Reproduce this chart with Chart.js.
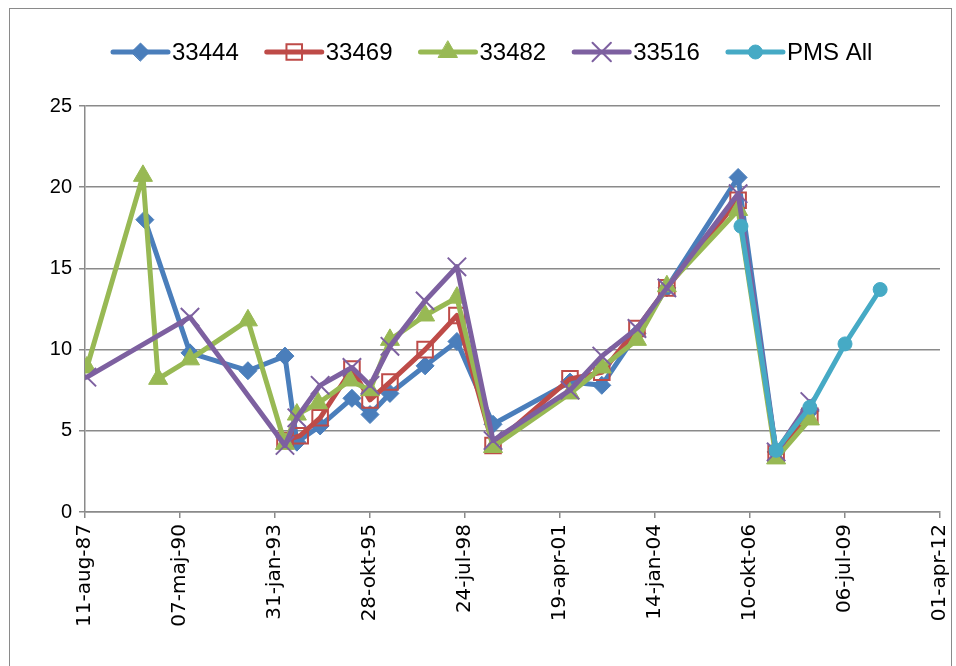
<!DOCTYPE html>
<html>
<head>
<meta charset="utf-8">
<script src="https://cdn.jsdelivr.net/npm/chart.js@4.4.0/dist/chart.umd.min.js"></script>
<style>
  html, body { margin: 0; padding: 0; background: #fff; }
</style>
</head>
<body>
<canvas id="chart" width="956" height="666"></canvas>
<script>
// x values are Excel day numbers (32000 = 11-aug-87)
const tickLabels = ['11-aug-87', '07-maj-90', '31-jan-93', '28-okt-95', '24-jul-98',
                    '19-apr-01', '14-jan-04', '10-okt-06', '06-jul-09', '01-apr-12'];

const days33444 = [32630, 33105, 33715, 34105, 34230, 34475, 34810, 35000, 35210, 35580, 35915, 36295, 37105, 37440, 37810, 38125, 38875, 39275, 39630];
const vals33444 = [18.0, 9.8, 8.7, 9.6, 4.3, 5.3, 7.0, 6.0, 7.3, 9.0, 10.5, 5.4, 8.0, 7.8, 11.0, 13.8, 20.6, 3.7, 6.2];

const days33469 = [34105, 34265, 34475, 34810, 35000, 35210, 35580, 35915, 36295, 37105, 37440, 37810, 38125, 38875, 39275, 39630];
const vals33469 = [4.4, 4.7, 5.8, 8.8, 6.9, 8.0, 10.0, 12.1, 4.1, 8.2, 8.6, 11.3, 13.8, 19.2, 3.6, 5.9];

const days33482 = [32020, 32610, 32770, 33105, 33715, 34105, 34230, 34455, 34790, 35000, 35210, 35580, 35915, 36295, 37105, 37440, 37810, 38125, 38875, 39275, 39630];
const vals33482 = [8.9, 20.7, 8.2, 9.4, 11.8, 4.2, 6.0, 6.7, 8.1, 7.5, 10.6, 12.1, 13.2, 4.0, 7.3, 8.9, 10.6, 13.9, 18.6, 3.3, 5.7];

const days33516 = [32020, 33105, 34105, 34230, 34475, 34810, 35000, 35210, 35580, 35915, 36295, 37105, 37440, 37810, 38125, 38875, 39275, 39630];
const vals33516 = [8.3, 12.0, 4.1, 5.8, 7.8, 8.9, 7.8, 10.2, 13.0, 15.1, 4.4, 7.5, 9.6, 11.3, 13.8, 19.6, 3.7, 6.8];

const daysPMS = [38905, 39275, 39630, 40000, 40370];
const valsPMS = [17.6, 3.8, 6.45, 10.35, 13.7];

function pts(days, vals) {
  return days.map((d, i) => ({ x: d, y: vals[i] }));
}

function serie(label, data, color, style, radius, fill, order) {
  return {
    label: label,
    data: data,
    borderColor: color,
    backgroundColor: color,
    borderWidth: 5,
    borderJoinStyle: 'round',
    borderCapStyle: 'round',
    pointStyle: style,
    pointRadius: radius,
    pointHoverRadius: radius,
    pointBorderColor: color,
    pointBackgroundColor: fill,
    pointBorderWidth: style === 'rect' || style === 'crossRot' ? 2 : 1,
    tension: 0,
    fill: false,
    order: order
  };
}

// frame round the whole chart
const frame = {
  id: 'frame',
  beforeDraw(chart) {
    const c = chart.ctx;
    c.save();
    c.strokeStyle = '#8a8a8a';
    c.lineWidth = 1;
    c.strokeRect(9.5, 8.5, 942, 700);
    c.restore();
  }
};

// Excel style legend: line with marker, then text
const lineLegend = {
  id: 'lineLegend',
  afterDraw(chart) {
    const c = chart.ctx;
    const y = 52;
    let x = 113;
    c.save();
    c.font = '24px "Liberation Sans", Arial, sans-serif';
    c.textBaseline = 'middle';
    chart.data.datasets.forEach(ds => {
      c.strokeStyle = ds.borderColor;
      c.lineWidth = 5;
      c.lineCap = 'round';
      c.beginPath();
      c.moveTo(x, y);
      c.lineTo(x + 55, y);
      c.stroke();
      c.fillStyle = ds.pointBackgroundColor;
      c.strokeStyle = ds.pointBorderColor;
      c.lineWidth = ds.pointBorderWidth;
      Chart.helpers.drawPoint(c, { pointStyle: ds.pointStyle, radius: ds.pointRadius, borderWidth: ds.pointBorderWidth, rotation: 0 }, x + 27.5, y);
      c.fillStyle = '#000';
      c.fillText(ds.label, x + 59, y + 1);
      x += 59 + c.measureText(ds.label).width + 28;
    });
    c.restore();
  }
};

new Chart(document.getElementById('chart'), {
  type: 'line',
  data: {
    datasets: [
      serie('33444', pts(days33444, vals33444), '#4a7ebb', 'rectRot', 9, '#4a7ebb', 4),
      serie('33469', pts(days33469, vals33469), '#be4b48', 'rect', 11, 'rgba(0,0,0,0)', 3),
      serie('33482', pts(days33482, vals33482), '#98b954', 'triangle', 11, '#98b954', 2),
      serie('33516', pts(days33516, vals33516), '#7d60a0', 'crossRot', 13, '#7d60a0', 1),
      serie('PMS All', pts(daysPMS, valsPMS), '#46aac5', 'circle', 7, '#46aac5', 0)
    ]
  },
  options: {
    responsive: false,
    animation: false,
    layout: { padding: { top: 106, right: 16, left: 0, bottom: 0 } },
    plugins: {
      legend: { display: false },
      tooltip: { enabled: false }
    },
    scales: {
      x: {
        type: 'linear',
        min: 32000,
        max: 41000,
        afterFit(scale) {
          scale.height = 154;
          scale.paddingLeft = 0;
          scale.paddingRight = 0;
        },
        grid: { drawOnChartArea: false, drawTicks: true, tickLength: 6, color: '#8a8a8a', lineWidth: 1.5 },
        border: { color: '#8a8a8a', width: 1.5 },
        ticks: {
          stepSize: 1000,
          minRotation: 90,
          maxRotation: 90,
          padding: 6,
          color: '#000',
          font: { family: '"DejaVu Sans", sans-serif', size: 20 },
          callback: (v, i) => tickLabels[i]
        }
      },
      y: {
        min: 0,
        max: 25,
        afterFit(scale) { scale.width = 85; },
        grid: { color: '#8a8a8a', lineWidth: 1.5, tickLength: 6 },
        border: { color: '#8a8a8a', width: 1.5 },
        ticks: {
          stepSize: 5,
          padding: 7,
          color: '#000',
          font: { family: '"Liberation Sans", Arial, sans-serif', size: 20 }
        }
      }
    }
  },
  plugins: [frame, lineLegend]
});
</script>
</body>
</html>
